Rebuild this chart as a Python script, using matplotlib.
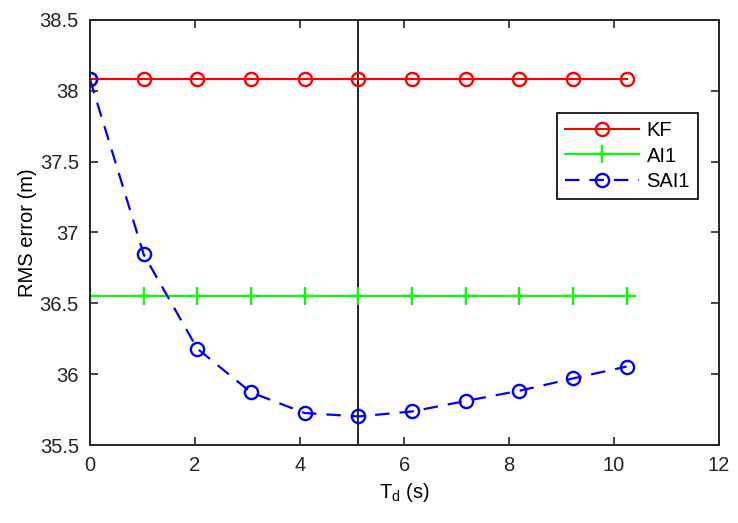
import matplotlib
matplotlib.use("Agg")
import matplotlib.pyplot as plt

plt.rcParams['font.family'] = ['Liberation Sans', 'DejaVu Sans']
plt.rcParams['mathtext.default'] = 'regular'

# data
td = [0, 1.024, 2.048, 3.072, 4.096, 5.12, 6.144, 7.168, 8.192, 9.216, 10.24]
kf = [38.08] * 11
ai1 = [36.554] * 11
sai1 = [38.08, 36.845, 36.18, 35.872, 35.726, 35.702, 35.737, 35.811, 35.883, 35.970, 36.054]
td_mark = 5.12

xticks = [0, 2, 4, 6, 8, 10, 12]
yticks = [35.5, 36, 36.5, 37, 37.5, 38, 38.5]

fig = plt.figure(figsize=(7.38, 5.23), dpi=100)
ax = fig.add_axes([0.122, 0.149, 0.852, 0.813])

ax.axvline(td_mark, color='k', lw=1.2, zorder=1)
ax.plot(td, kf, color=(1, 0, 0), lw=1.5, marker='o', ms=9.5, mfc='none',
        mew=1.7, label='KF')
ax.plot(td, ai1, color=(0, 1, 0), lw=1.5, marker='+', ms=13, mew=1.7,
        label='AI1')
ax.plot(td, sai1, color=(0, 0, 1), lw=1.6, ls=(0, (6.5, 4.5)), marker='o',
        ms=9.5, mfc='none', mew=1.7, label='SAI1')

ax.set_xlim(0, 12)
ax.set_ylim(35.5, 38.5)
ax.set_xticks(xticks)
ax.set_yticks(yticks)
ax.set_yticklabels(['35.5', '36', '36.5', '37', '37.5', '38', '38.5'])
ax.tick_params(direction='in', length=6, width=1.2, labelsize=14.5,
               top=True, right=True, pad=8, colors='#262626')
for s in ax.spines.values():
    s.set_linewidth(1.4)
    s.set_color('#262626')

ax.set_xlabel('T$_d$ (s)', fontsize=14.5, labelpad=4)
ax.set_ylabel('RMS error (m)', fontsize=14.5, labelpad=2)

leg = ax.legend(loc='upper right', bbox_to_anchor=(0.967, 0.780),
                fontsize=14.5, handlelength=3.7, handletextpad=0.35,
                borderpad=0.4, labelspacing=0.3, fancybox=False,
                framealpha=1, edgecolor='k', borderaxespad=0)
leg.get_frame().set_linewidth(1.2)

fig.savefig('out.png', dpi=100)
